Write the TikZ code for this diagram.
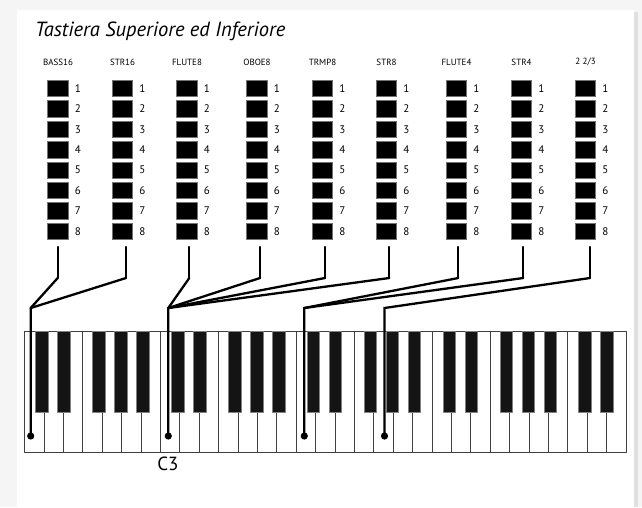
\documentclass[tikz,border=0pt]{standalone}
\usepackage{fontspec}
\setmainfont{PT Sans}
\begin{document}
\begin{tikzpicture}[x=1pt,y=-1pt,line join=round,line cap=round,font=\fontsize{9}{10}\selectfont,
  stopbox/.style={draw=black!55,fill=black,line width=0.6pt,minimum width=20.5pt,minimum height=16.5pt,inner sep=0pt},
  stopnum/.style={anchor=west,inner sep=0pt,font=\fontsize{11}{12}\selectfont},
  stoplabel/.style={inner sep=0pt,font=\fontsize{9}{10}\selectfont},
  wire/.style={line width=2.3pt,line join=miter},
  whitekey/.style={draw=black!75,fill=white,line width=0.8pt},
  blackkey/.style={draw=black!50,fill=black!92,line width=0.6pt}]
  \useasboundingbox (0,0) rectangle (642,507);
  \fill[black!4] (0,0) rectangle (642,507);
  \fill[black!12] (19,12) rectangle (638,507);
  \fill[white] (17,10) rectangle (634,507);

  \node[anchor=base west,inner sep=0pt,font=\itshape\fontsize{20.5}{22}\selectfont] (title) at (35,36) {Tastiera Superiore ed Inferiore};

  % registri
  \foreach \cx/\lx/\name/\txt in {58/57.7/bass16/BASS16,122.5/126/str16/STR16,187/189.3/flute8/FLUTE8,257/260/oboe8/OBOE8,322.5/325/trmp8/TRMP8,386.5/389.3/str8/STR8,456.5/458.3/flute4/FLUTE4,521.5/523.3/str4/STR4,585.5/590/quinta/{2 2/3}}{
    \node[stoplabel] (\name-lab) at (\cx,62) {\txt};
    \foreach \i in {1,...,8}{
      \node[stopbox] (\name-\i) at (\cx,{88.5+(\i-1)*20.4}) {};
      \node[stopnum] at ([xshift=6pt]\name-\i.east) {\i};
    }
    \coordinate (\name-top) at (\lx,247);
    \coordinate (\name-bend) at (\lx,278);
    \draw[wire] (\name-top) -- (\name-bend);
  }

  % tastiera
  \foreach \k in {0,...,30}
    \draw[whitekey] ({24.5+\k*19.4},331) rectangle ++(19.4,121);
  \foreach \o in {0,...,3}
    \foreach \b in {0.57,1.70,3.5,4.64,5.77}
      \draw[blackkey] ({24.5+(\o*7+\b)*19.4},331) rectangle ++(12.6,81);
  \foreach \b in {0.57,1.70}
    \draw[blackkey] ({24.5+(28+\b)*19.4},331) rectangle ++(12.6,81);

  \coordinate (j16) at (30.7,308);
  \coordinate (j8) at (168.3,308);
  \coordinate (j4) at (304.3,308);
  \coordinate (jq) at (384.5,308);
  \coordinate (k16) at (30.7,436);
  \coordinate (k8) at (168.3,436);
  \coordinate (k4) at (304.3,436);
  \coordinate (kq) at (384.5,436);

  \draw[wire] (bass16-bend) -- (j16) -- (k16);
  \draw[wire] (str16-bend) -- (j16);
  \draw[wire] (flute8-bend) -- (j8) -- (k8);
  \draw[wire] (oboe8-bend) -- (j8);
  \draw[wire] (trmp8-bend) -- (j8);
  \draw[wire] (str8-bend) -- (j8);
  \draw[wire] (flute4-bend) -- (j4) -- (k4);
  \draw[wire] (str4-bend) -- (j4);
  \draw[wire] (quinta-bend) -- (jq) -- (kq);
  \foreach \k in {k16,k8,k4,kq}
    \fill (\k) circle (3.6);

  \node[font=\fontsize{19}{20}\selectfont,inner sep=0pt] (c3) at (168,464) {C3};
\end{tikzpicture}
\end{document}
